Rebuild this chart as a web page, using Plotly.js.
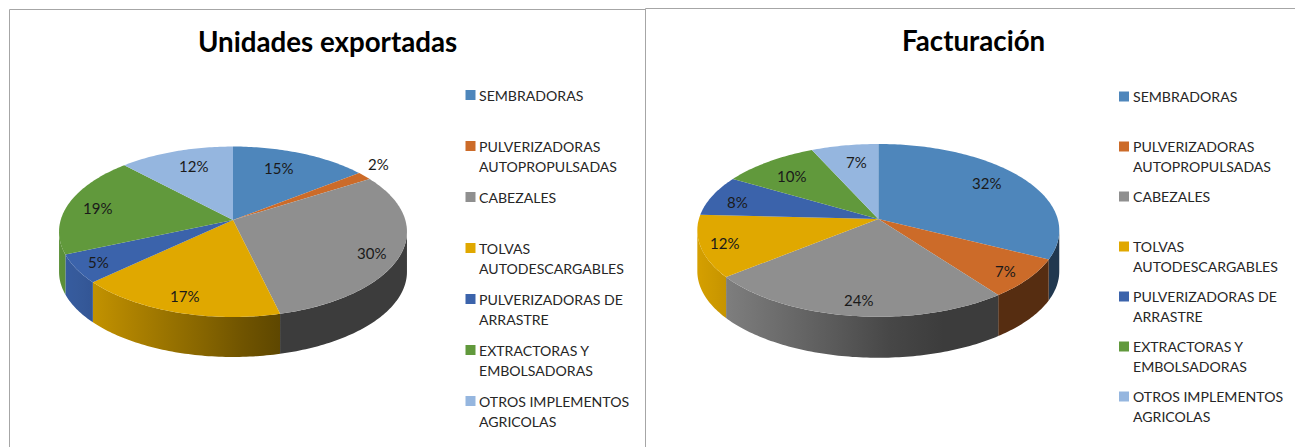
<!DOCTYPE html>
<html>
<head>
<meta charset="utf-8">
<script src="https://cdn.plot.ly/plotly-3.0.1.min.js"></script>
<style>html,body{margin:0;padding:0;background:#fff}#chart{width:1295px;height:447px}</style>
</head>
<body>
<div id="chart"></div>
<script>
// ---- data ----
const categories = [
  ['SEMBRADORAS'],
  ['PULVERIZADORAS', 'AUTOPROPULSADAS'],
  ['CABEZALES'],
  ['TOLVAS', 'AUTODESCARGABLES'],
  ['PULVERIZADORAS DE', 'ARRASTRE'],
  ['EXTRACTORAS Y', 'EMBOLSADORAS'],
  ['OTROS IMPLEMENTOS', 'AGRICOLAS']
];
const unidadesValues = [14.6, 1.6, 30.0, 17.0, 5.4, 19.2, 12.2];
const facturacionValues = [32.4, 7.4, 24.4, 11.6, 7.6, 9.8, 6.8];
const sliceColors = ['#4E86BB', '#CC6B29', '#8F8F8F', '#E0A800', '#3B63AB', '#61993C', '#95B6DF'];

// ---- panel geometry (plot axes run in page pixels) ----
const panels = [
  { title: 'Unidades exportadas', titleX: 327, titleY: 41, values: unidadesValues,
    cx: 233, cy: 220, A: 172.3, B: 83.6, k: 0.138, depth: 40,
    labelRadius: [0.65, 1.12, 0.82, 0.79, 0.86, 0.78, 0.70],
    labelNudge: [[0, -7], [-1, -7], [2, 6], [-4, 5], [-1, 0], [-7, 1], [2, -4]],
    swatchX: 470.5, textX: 477, legendTop: 95, legendStep: 51 },
  { title: 'Facturación', titleX: 973, titleY: 40, values: facturacionValues,
    cx: 878.3, cy: 219, A: 179.4, B: 84.9, k: 0.1316, depth: 41,
    labelRadius: [0.75, 0.87, 0.85, 0.88, 0.80, 0.75, 0.70],
    labelNudge: [[-1, -4], [-2, 1], [2, 0], [2, 0], [-7, 2], [-3, 1], [3, -4]],
    swatchX: 1124, textX: 1131, legendTop: 96.5, legendStep: 50 }
];
const lineGap = 20.3;
const labelFont = { family: 'Lato, sans-serif', size: 15, color: '#1a1a1a' };
const legendFont = { family: 'Lato, sans-serif', size: 14.1, color: '#262626' };
const titleFont = { family: 'Lato, sans-serif', size: 27.7, color: '#000', weight: 700 };
const frameColor = '#A6A6A6';

function project(p, deg, f) {
  const t = deg * Math.PI / 180, u = f * Math.sin(t), v = f * Math.cos(t);
  const s = 1 / (1 + p.k * v);
  return [p.cx + p.A * u * s, p.cy - p.B * v * s];
}
function arc(p, a, b) {
  const pts = [], n = Math.max(2, Math.ceil(Math.abs(b - a)));
  for (let i = 0; i <= n; i++) pts.push(project(p, a + (b - a) * i / n, 1));
  return pts;
}
function shade(hex, m) {
  const c = [1, 3, 5].map(i => Math.round(parseInt(hex.substr(i, 2), 16) * m));
  return 'rgb(' + c.join(',') + ')';
}
const lightAt = t => Math.max(0.42, 0.95 - 0.85 * t);

const traces = [], annotations = [];
panels.forEach(p => {
  const total = p.values.reduce((a, b) => a + b, 0);
  let acc = 0;
  const spans = p.values.map(v => { const a = acc; acc += v; return [a / total * 360, acc / total * 360]; });
  // visible front wall runs between the two widest points of the outline
  const widest = Math.acos(-p.k) * 180 / Math.PI;
  const frontA = widest, frontB = 360 - widest;
  const xLeft = p.cx - p.A * 1.01, xSpan = p.A * 2.02;

  spans.forEach(([a, b], i) => {
    const from = Math.max(a, frontA), to = Math.min(b, frontB);
    if (to <= from) return;
    const top = arc(p, from, to);
    const xs = top.map(q => q[0]);
    const x0 = Math.min(...xs), x1 = Math.max(...xs);
    const stops = [0, 0.2, 0.4, 0.6, 0.8, 1].map(f =>
      [f, shade(sliceColors[i], lightAt((x0 + (x1 - x0) * f - xLeft) / xSpan))]);
    traces.push({
      type: 'scatter', mode: 'none', fill: 'toself', hoverinfo: 'skip', showlegend: false,
      x: xs.concat(top.slice().reverse().map(q => q[0])),
      y: top.map(q => q[1]).concat(top.slice().reverse().map(q => q[1] + p.depth)),
      fillgradient: { type: 'horizontal', colorscale: stops, start: x0, stop: x1 }
    });
  });

  spans.forEach(([a, b], i) => {
    const pts = [[p.cx, p.cy]].concat(arc(p, a, b));
    traces.push({
      type: 'scatter', mode: 'none', fill: 'toself', fillcolor: sliceColors[i],
      hoverinfo: 'skip', showlegend: false,
      x: pts.map(q => q[0]), y: pts.map(q => q[1])
    });
    const c = project(p, (a + b) / 2, p.labelRadius[i]);
    annotations.push({ x: c[0] + p.labelNudge[i][0], y: c[1] + p.labelNudge[i][1],
      xref: 'x', yref: 'y', showarrow: false,
      text: Math.round(p.values[i]) + '%', font: labelFont });
  });

  traces.push({
    type: 'scatter', mode: 'markers', hoverinfo: 'skip', showlegend: false,
    x: categories.map(() => p.swatchX),
    y: categories.map((c, i) => p.legendTop + i * p.legendStep),
    marker: { symbol: 'square', size: 10, color: sliceColors }
  });
  categories.forEach((lines, i) => lines.forEach((line, j) => {
    annotations.push({ x: p.textX, y: p.legendTop + i * p.legendStep + j * lineGap,
      xref: 'x', yref: 'y', xanchor: 'left', showarrow: false, text: line, font: legendFont });
  }));
  annotations.push({ x: p.titleX, y: p.titleY, xref: 'x', yref: 'y', showarrow: false,
    text: p.title, font: titleFont });
});

const frame = (x0, y0, x1, y1) => ({ type: 'line', xref: 'x', yref: 'y', x0, y0, x1, y1,
  line: { color: frameColor, width: 1 } });

Plotly.newPlot('chart', traces, {
  width: 1295, height: 447,
  margin: { l: 0, r: 0, t: 0, b: 0 },
  paper_bgcolor: '#fff', plot_bgcolor: '#fff',
  showlegend: false,
  xaxis: { range: [0, 1295], visible: false, fixedrange: true },
  yaxis: { range: [447, 0], visible: false, fixedrange: true },
  annotations,
  shapes: [
    frame(9.5, 9.5, 645, 9.5), frame(9.5, 9.5, 9.5, 447),
    frame(645.5, 8.5, 1295, 8.5), frame(645.5, 8.5, 645.5, 447)
  ]
}, { staticPlot: true, displayModeBar: false });
</script>
</body>
</html>
